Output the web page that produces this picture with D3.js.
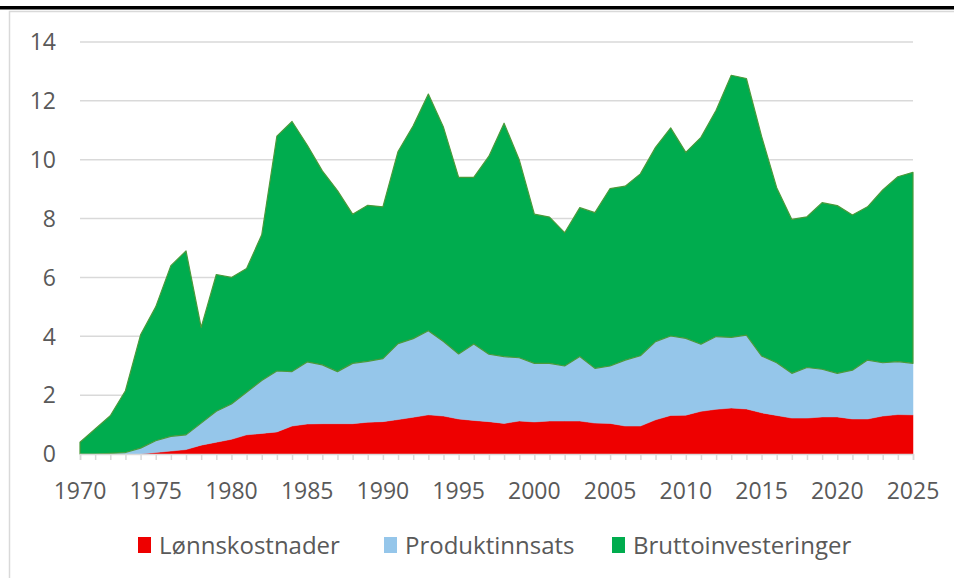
<!DOCTYPE html>
<html>
<head>
<meta charset="utf-8">
<script src="https://cdn.jsdelivr.net/npm/d3@7"></script>
<style>
  body { margin: 0; background: #fff; }
  svg { display: block; font-family: "Open Sans", sans-serif; }
</style>
</head>
<body>
<div id="container"></div>
<script>
// --- data ---
var years = d3.range(1970, 2026);

var lonnskostnader = [
    0, 0, 0, 0, 0, 0.05, 0.1, 0.15, 0.3, 0.4,
    0.5, 0.65, 0.7, 0.75, 0.95, 1.02, 1.03, 1.03, 1.03, 1.08,
    1.1, 1.17, 1.25, 1.33, 1.29, 1.19, 1.14, 1.1, 1.04, 1.12,
    1.09, 1.12, 1.12, 1.12, 1.05, 1.04, 0.95, 0.95, 1.16, 1.31,
    1.32, 1.45, 1.52, 1.56, 1.53, 1.4, 1.31, 1.22, 1.22, 1.26,
    1.26, 1.19, 1.19, 1.29, 1.34, 1.33
];

var produktinnsats = [
    0, 0, 0.02, 0.05, 0.2, 0.4, 0.5, 0.5, 0.75, 1.05,
    1.2, 1.45, 1.8, 2.07, 1.85, 2.11, 2.0, 1.77, 2.05, 2.07,
    2.14, 2.58, 2.67, 2.86, 2.53, 2.21, 2.6, 2.29, 2.27, 2.15,
    1.99, 1.96, 1.87, 2.19, 1.86, 1.95, 2.24, 2.39, 2.66, 2.7,
    2.61, 2.28, 2.47, 2.4, 2.51, 1.93, 1.79, 1.52, 1.72, 1.62,
    1.48, 1.66, 2.0, 1.81, 1.8, 1.75
];

var bruttoinvesteringer = [
    0.4, 0.85, 1.28, 2.1, 3.85, 4.55, 5.8, 6.25, 3.25, 4.65,
    4.3, 4.2, 4.95, 7.98, 8.5, 7.37, 6.59, 6.15, 5.07, 5.3,
    5.16, 6.53, 7.23, 8.04, 7.28, 6.0, 5.66, 6.73, 7.93, 6.73,
    5.07, 4.97, 4.53, 5.06, 5.29, 6.03, 5.91, 6.18, 6.6, 7.07,
    6.32, 7.03, 7.69, 8.91, 8.72, 7.47, 5.95, 5.23, 5.12, 5.66,
    5.7, 5.27, 5.21, 5.87, 6.28, 6.49
];

var seriesNames = ["Lønnskostnader", "Produktinnsats", "Bruttoinvesteringer"];
var seriesColors = ["#ee0000", "#95c6ea", "#00ac4e"];
var yTicks = [0, 2, 4, 6, 8, 10, 12, 14];
var xTickLabels = [1970, 1975, 1980, 1985, 1990, 1995, 2000, 2005, 2010, 2015, 2020, 2025];

// --- layout ---
var svgWidth = 954, svgHeight = 578;
var plot = { left: 80, right: 913, top: 42, bottom: 454 };
var textColor = "#595959";
var gridColor = "#d9d9d9";

var svg = d3.select("#container").append("svg")
    .attr("width", svgWidth)
    .attr("height", svgHeight);

// frame: thick black rule on top, thin gray chart border
svg.append("rect")
    .attr("x", 9.5).attr("y", 11.5)
    .attr("width", svgWidth + 10).attr("height", svgHeight)
    .attr("fill", "none").attr("stroke", gridColor).attr("stroke-width", 1.5);
svg.append("rect")
    .attr("x", 0).attr("y", 6)
    .attr("width", svgWidth).attr("height", 3.5)
    .attr("fill", "#000");

// --- scales ---
var x = d3.scaleLinear().domain([1970, 2025]).range([plot.left, plot.right]);
var y = d3.scaleLinear().domain([0, 14]).range([plot.bottom, plot.top]);

// gridlines + y labels
svg.append("g").selectAll("line")
    .data(yTicks.slice(1))
    .enter().append("line")
    .attr("x1", plot.left).attr("x2", plot.right)
    .attr("y1", d => y(d)).attr("y2", d => y(d))
    .attr("stroke", gridColor).attr("stroke-width", 1.5);

svg.append("g").selectAll("text")
    .data(yTicks)
    .enter().append("text")
    .attr("x", 56)
    .attr("y", d => y(d))
    .attr("dy", "0.36em")
    .attr("text-anchor", "end")
    .attr("fill", textColor)
    .style("font-size", "23px")
    .text(d => d);

// --- stacked areas ---
var table = years.map(function (yr, i) {
    return {
        year: yr,
        "Lønnskostnader": lonnskostnader[i],
        "Produktinnsats": produktinnsats[i],
        "Bruttoinvesteringer": bruttoinvesteringer[i]
    };
});

var stacked = d3.stack().keys(seriesNames)(table);

var area = d3.area()
    .x(d => x(d.data.year))
    .y0(d => y(d[0]))
    .y1(d => y(d[1]));

svg.append("g").selectAll("path")
    .data(stacked)
    .enter().append("path")
    .attr("d", area)
    .attr("fill", (d, i) => seriesColors[i])
    .attr("stroke", (d, i) => i === 2 ? "#4a9a3a" : seriesColors[i])
    .attr("stroke-width", (d, i) => i === 2 ? 1.2 : 0.5)
    .attr("stroke-linejoin", "round");

// --- x axis: baseline, yearly minor ticks, labels every 5 years ---
var xAxis = svg.append("g")
    .attr("transform", "translate(0," + plot.bottom + ")")
    .call(d3.axisBottom(x).tickValues(years).tickSize(6).tickFormat(""));
xAxis.select(".domain").attr("stroke", gridColor).attr("stroke-width", 1.5);
xAxis.selectAll(".tick line").attr("stroke", gridColor).attr("stroke-width", 1.5);

svg.append("g").selectAll("text")
    .data(xTickLabels)
    .enter().append("text")
    .attr("x", d => x(d))
    .attr("y", 499)
    .attr("text-anchor", "middle")
    .attr("fill", textColor)
    .style("font-size", "23px")
    .text(d => d);

// --- legend ---
var legendX = [138, 384, 612];
var legend = svg.append("g").selectAll("g")
    .data(seriesNames)
    .enter().append("g")
    .attr("transform", (d, i) => "translate(" + legendX[i] + ",537)");

legend.append("rect")
    .attr("width", 13).attr("height", 16)
    .attr("fill", (d, i) => seriesColors[i]);

legend.append("text")
    .attr("x", 21).attr("y", 8)
    .attr("dy", "0.36em")
    .attr("fill", textColor)
    .style("font-size", "24px")
    .text(d => d);
</script>
</body>
</html>
